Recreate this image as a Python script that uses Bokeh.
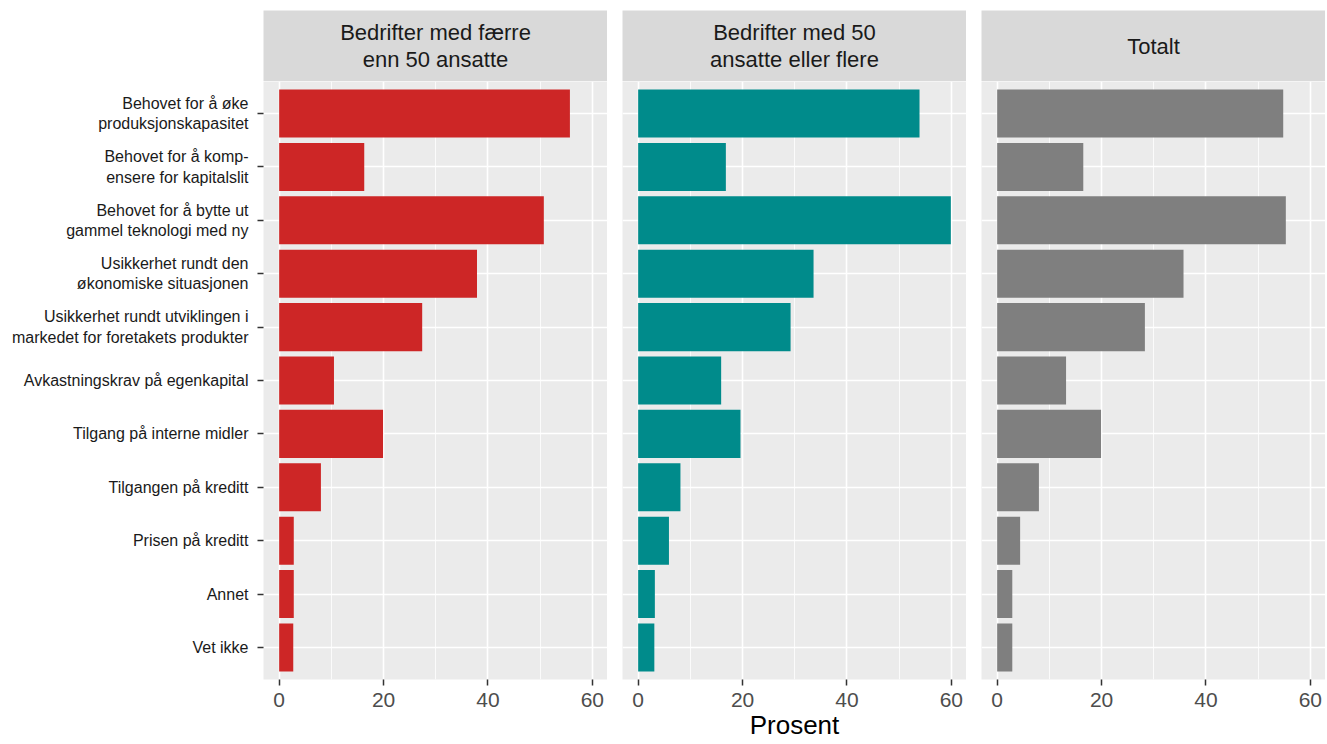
from bokeh.plotting import figure
from bokeh.layouts import gridplot
from bokeh.models import Range1d, FactorRange, FixedTicker, Label, ColumnDataSource
from bokeh.embed import file_html
from bokeh.resources import INLINE

categories = [
    "Behovet for å øke\nproduksjonskapasitet",
    "Behovet for å komp-\nensere for kapitalslit",
    "Behovet for å bytte ut\ngammel teknologi med ny",
    "Usikkerhet rundt den\nøkonomiske situasjonen",
    "Usikkerhet rundt utviklingen i\nmarkedet for foretakets produkter",
    "Avkastningskrav på egenkapital",
    "Tilgang på interne midler",
    "Tilgangen på kreditt",
    "Prisen på kreditt",
    "Annet",
    "Vet ikke",
]
small_firms = [55.7, 16.3, 50.7, 37.9, 27.4, 10.5, 19.9, 8.0, 2.8, 2.8, 2.7]
large_firms = [53.9, 16.8, 59.9, 33.6, 29.2, 15.9, 19.6, 8.1, 5.9, 3.2, 3.1]
total_firms = [54.8, 16.5, 55.3, 35.7, 28.3, 13.2, 19.9, 8.0, 4.4, 2.9, 2.9]
panel_titles = ["Bedrifter med færre\nenn 50 ansatte",
                "Bedrifter med 50\nansatte eller flere",
                "Totalt"]
panel_colors = ["#CD2626", "#008B8B", "#7F7F7F"]
x_ticks = [0, 20, 40, 60]
x_minor = [10, 30, 50]
x_title = "Prosent"

FONT = "Liberation Sans"
FRAME_W = 344
FRAME_H = 598
STRIP_H = 71
LEFT = 263
GAP = 15
TOP = 10

series = [small_firms, large_firms, total_firms]
strips = []
panels = []
for i, (vals, title, col) in enumerate(zip(series, panel_titles, panel_colors)):
    left_border = LEFT if i == 0 else GAP
    # strip
    s = figure(frame_width=FRAME_W, frame_height=STRIP_H, x_range=Range1d(0, 1), y_range=Range1d(0, 1),
               output_backend="svg", toolbar_location=None,
               min_border_left=left_border, min_border_right=0, min_border_top=TOP, min_border_bottom=0)
    s.axis.visible = False
    s.grid.visible = False
    s.outline_line_color = None
    s.background_fill_color = "#D9D9D9"
    s.border_fill_color = "white"
    s.add_layout(Label(x=0.5, y=0.5, text=title, text_align="center", text_baseline="middle",
                       text_font=FONT, text_font_size="22px", text_color="#1A1A1A",
                       text_line_height=1.1))
    strips.append(s)

    # panel
    src = ColumnDataSource(dict(cat=categories, val=vals))
    p = figure(frame_width=FRAME_W, frame_height=FRAME_H,
               x_range=Range1d(-3, 62.9),
               y_range=FactorRange(factors=list(reversed(categories)),
                                   range_padding=0.2 / 11, range_padding_units="percent"),
               output_backend="svg", toolbar_location=None,
               min_border_left=left_border, min_border_right=0, min_border_top=0, min_border_bottom=5)
    p.hbar(y="cat", left=0, right="val", height=0.9, source=src, fill_color=col, line_color=None)
    p.background_fill_color = "#EBEBEB"
    p.border_fill_color = "white"
    p.outline_line_color = None

    p.xaxis.ticker = FixedTicker(ticks=x_ticks, minor_ticks=x_minor)
    p.xaxis.axis_line_color = None
    p.xaxis.major_tick_line_color = "#333333"
    p.xaxis.major_tick_line_width = 1.5
    p.xaxis.major_tick_out = 6
    p.xaxis.major_tick_in = 0
    p.xaxis.minor_tick_line_color = None
    p.xaxis.major_label_text_font = FONT
    p.xaxis.major_label_text_font_size = "21px"
    p.xaxis.major_label_text_color = "#4D4D4D"
    p.xaxis.major_label_standoff = 7
    if i == 1:
        p.xaxis.axis_label = x_title
        p.xaxis.axis_label_text_font = FONT
        p.xaxis.axis_label_text_font_size = "26px"
        p.xaxis.axis_label_text_font_style = "normal"
        p.xaxis.axis_label_text_color = "#000000"
        p.xaxis.axis_label_standoff = 0

    p.xgrid.grid_line_color = "white"
    p.xgrid.grid_line_width = 1.6
    p.xgrid.minor_grid_line_color = "white"
    p.xgrid.minor_grid_line_width = 0.8
    p.ygrid.grid_line_color = "white"
    p.ygrid.grid_line_width = 1.6

    if i == 0:
        p.yaxis.axis_line_color = None
        p.yaxis.major_tick_line_color = "#333333"
        p.yaxis.major_tick_line_width = 1.5
        p.yaxis.major_tick_out = 6
        p.yaxis.major_tick_in = 0
        p.yaxis.major_label_text_font = FONT
        p.yaxis.major_label_text_font_size = "16px"
        p.yaxis.major_label_text_color = "#1A1A1A"
        p.yaxis.major_label_standoff = 9
    else:
        p.yaxis.visible = False
    panels.append(p)

grid = gridplot([strips, panels], toolbar_location=None)
open("out.html", "w").write(file_html(grid, INLINE))
